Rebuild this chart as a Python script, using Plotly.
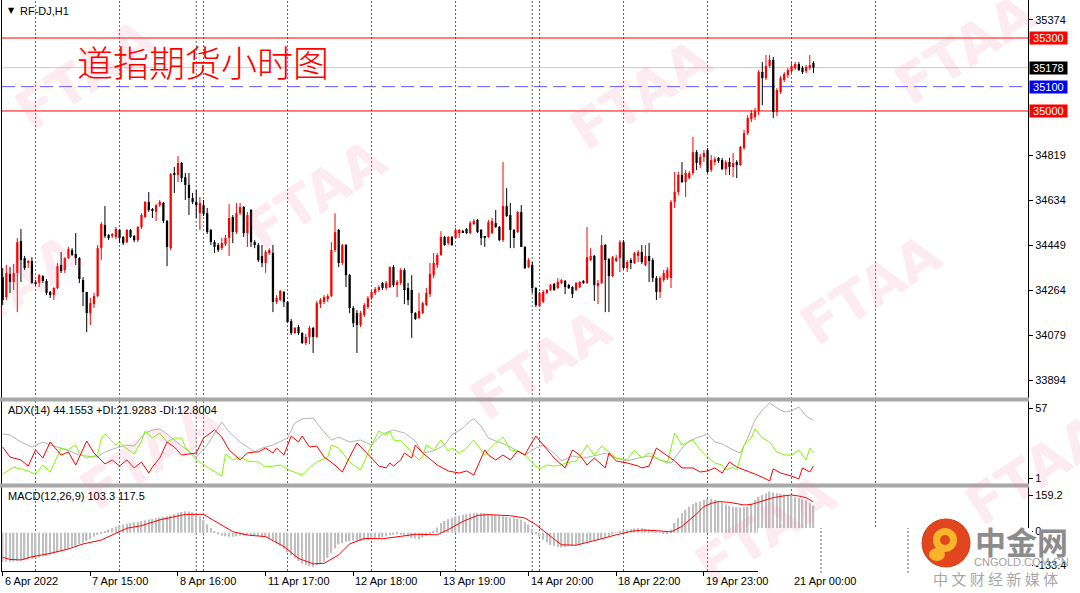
import plotly.graph_objects as go

# ---------------- data ----------------
bar_open = [34317,34235,34330,34297,34334,34465,34395,34375,34383,34297,34293,34321,34301,34256,34243,34272,34367,34346,34395,34428,
            34412,34395,34305,34256,34169,34206,34239,34436,34531,34490,34486,34482,34511,34482,34461,34511,34486,34469,34523,34564,
            34626,34597,34585,34613,34622,34548,34436,34745,34737,34786,34728,34696,34642,34626,34580,34613,34580,34511,34461,34449,
            34436,34453,34478,34564,34502,34580,34605,34498,34593,34461,34449,34404,34375,34416,34416,34215,34223,34256,34215,34136,
            34087,34112,34087,34046,34071,34108,34071,34206,34215,34227,34239,34428,34511,34375,34449,34325,34190,34169,34120,34161,
            34194,34231,34252,34264,34293,34272,34276,34358,34284,34293,34346,34272,34264,34169,34149,34169,34202,34247,34325,34367,
            34408,34482,34457,34482,34478,34498,34506,34515,34498,34535,34552,34511,34482,34482,34498,34539,34523,34469,34609,34572,
            34511,34502,34585,34441,34358,34367,34272,34198,34215,34252,34264,34289,34272,34293,34301,34284,34276,34264,34276,34301,
            34293,34387,34404,34280,34293,34449,34391,34321,34383,34395,34461,34354,34387,34375,34404,34420,34367,34404,34387,34313,
            34256,34305,34313,34313,34626,34667,34737,34708,34724,34745,34831,34778,34811,34839,34757,34790,34807,34798,34761,34790,
            34770,34790,34778,34848,34909,34967,34975,35000,35160,35135,35185,35210,34996,35078,35127,35148,35164,35177,35193,35177,
            35164,35177,35197]
bar_high = [34354,34367,34358,34371,34478,34515,34404,34387,34399,34305,34330,34325,34309,34260,34276,34375,34420,34399,34441,34436,
            34498,34399,34317,34256,34231,34252,34449,34543,34609,34494,34498,34523,34515,34486,34515,34515,34490,34527,34580,34630,
            34667,34601,34617,34634,34626,34552,34745,34770,34815,34790,34745,34745,34663,34675,34646,34634,34601,34515,34469,34457,
            34478,34490,34617,34572,34622,34622,34609,34585,34597,34469,34457,34449,34428,34436,34449,34243,34264,34260,34219,34145,
            34112,34120,34091,34083,34116,34112,34219,34231,34243,34247,34461,34580,34515,34453,34453,34330,34198,34182,34178,34210,
            34239,34264,34276,34284,34297,34301,34362,34367,34305,34354,34354,34293,34325,34173,34252,34215,34272,34375,34416,34416,
            34506,34486,34486,34486,34519,34515,34511,34519,34548,34556,34556,34515,34486,34552,34560,34593,34527,34790,34683,34622,
            34515,34589,34613,34445,34395,34379,34276,34256,34264,34268,34289,34293,34313,34309,34305,34289,34280,34297,34301,34305,
            34523,34436,34408,34305,34490,34453,34395,34404,34408,34469,34469,34387,34395,34420,34428,34449,34449,34457,34395,34321,
            34321,34346,34358,34634,34749,34749,34790,34757,34753,34893,34839,34823,34839,34848,34819,34811,34811,34807,34798,34807,
            34827,34798,34856,34922,34983,35004,35012,35168,35201,35230,35230,35222,35094,35144,35160,35177,35197,35201,35201,35185,
            35189,35230,35205]
bar_low = [34202,34223,34252,34264,34173,34297,34346,34354,34289,34280,34276,34293,34243,34231,34223,34268,34334,34334,34391,34404,
           34367,34293,34198,34091,34120,34190,34235,34387,34478,34469,34478,34473,34457,34449,34457,34478,34461,34461,34515,34560,
           34585,34560,34548,34605,34539,34362,34428,34663,34708,34708,34634,34572,34617,34560,34511,34568,34494,34449,34416,34420,
           34428,34445,34404,34457,34494,34572,34482,34441,34441,34436,34379,34358,34334,34408,34173,34206,34219,34194,34128,34079,
           34083,34079,34042,34038,34042,34005,34067,34190,34206,34215,34235,34420,34358,34367,34276,34169,34112,34005,34112,34153,
           34186,34223,34243,34256,34264,34264,34272,34276,34235,34284,34206,34202,34067,34141,34145,34165,34198,34235,34313,34354,
           34404,34445,34449,34445,34473,34478,34498,34494,34494,34531,34498,34449,34441,34478,34494,34519,34465,34461,34564,34436,
           34436,34498,34441,34350,34354,34252,34194,34194,34210,34247,34260,34260,34268,34289,34247,34268,34231,34260,34272,34289,
           34289,34383,34219,34206,34289,34173,34173,34317,34379,34338,34350,34338,34350,34371,34379,34371,34362,34297,34297,34223,
           34231,34297,34305,34272,34601,34654,34704,34646,34720,34737,34757,34765,34790,34745,34749,34778,34786,34757,34737,34737,
           34728,34724,34774,34839,34901,34955,34963,34983,35024,35127,35177,34971,34979,35070,35119,35135,35156,35168,35164,35152,
           35156,35168,35156]
bar_close = [34223,34334,34297,34334,34461,34387,34354,34383,34293,34289,34325,34301,34252,34243,34272,34362,34342,34395,34432,34408,
             34395,34309,34256,34169,34210,34239,34436,34535,34486,34478,34494,34515,34478,34457,34511,34482,34469,34523,34572,34626,
             34593,34589,34613,34626,34548,34441,34741,34737,34786,34724,34696,34642,34626,34613,34622,34576,34502,34461,34441,34428,
             34457,34478,34560,34502,34580,34605,34498,34572,34461,34449,34387,34375,34420,34428,34215,34231,34260,34215,34132,34087,
             34108,34087,34046,34071,34108,34071,34210,34223,34235,34239,34428,34502,34375,34449,34325,34190,34128,34120,34169,34202,
             34231,34256,34268,34276,34272,34293,34358,34284,34297,34346,34264,34223,34169,34145,34178,34210,34252,34330,34375,34408,
             34482,34449,34482,34449,34511,34511,34502,34498,34539,34548,34502,34478,34478,34543,34548,34523,34469,34609,34568,34511,
             34478,34585,34441,34354,34387,34272,34202,34252,34256,34264,34284,34264,34297,34305,34276,34272,34247,34293,34297,34293,
             34399,34404,34284,34293,34449,34387,34321,34399,34395,34461,34354,34379,34379,34416,34420,34379,34404,34383,34313,34256,
             34313,34334,34346,34626,34667,34737,34708,34745,34745,34831,34786,34811,34827,34749,34798,34802,34794,34761,34790,34770,
             34786,34778,34852,34909,34971,34992,35000,35160,35135,35185,35210,34996,35086,35135,35152,35168,35185,35193,35168,35160,
             35181,35189,35178]

time_tick_idx = [0, 24, 48, 72, 96, 120, 144, 168, 192, 216]
time_tick_text = ["6 Apr 2022", "7 Apr 15:00", "8 Apr 16:00", "11 Apr 17:00", "12 Apr 18:00",
                  "13 Apr 19:00", "14 Apr 20:00", "18 Apr 22:00", "19 Apr 23:00", "21 Apr 00:00"]
day_sep_idx = [9, 32, 53, 55, 78, 101, 124, 145, 147, 170, 193, 216, 239]

price_ticks = [35374, 34819, 34634, 34449, 34264, 34079, 33894]
red_levels = [35300, 35000]
blue_level = 35100
bid_price = 35178

adx_x = [0,2,5,8,11,13,16,18,21,23,26,28,31,34,36,39,41,43,45,48,50,53,56,59,60,62,65,69,71,74,78,80,82,85,88,90,92,95,98,101,
         104,107,110,113,115,118,121,123,126,128,129,131,133,135,138,141,143,146,148,151,153,156,159,163,165,168,171,174,177,180,
         183,186,188,190,193,195,197,200,202,204,206,208,210,212,214,216,218,220,222]
adx_v = [34.8,34.1,29.3,25.8,29.3,27.2,25.1,23.1,20.3,19.6,18.9,22.4,25.1,27.2,26.5,35.5,37.6,38.3,34.8,28.6,
         24.5,18.9,27.2,39.0,43.1,36.2,29.3,22.4,25.1,27.2,32.0,42.4,45.2,45.8,36.2,30.7,32.7,29.3,30.7,27.2,
         34.8,37.6,35.5,30.0,21.7,23.1,27.2,34.1,39.0,43.8,45.2,40.3,32.0,30.0,27.2,23.1,20.3,25.1,27.2,21.7,
         16.2,19.6,18.2,20.3,21.7,18.2,16.2,18.2,19.6,16.9,14.8,25.1,30.0,32.0,34.8,29.3,27.9,23.8,21.7,32.0,
         44.5,51.4,56.2,52.8,50.0,50.7,53.4,47.2,44.2]
pdi_x = [0,3,6,9,11,13,16,18,19,20,21,23,26,27,28,31,32,33,36,38,39,41,43,45,47,49,50,53,56,60,61,63,65,67,70,72,76,79,82,84,
         86,89,90,92,95,98,101,103,105,106,107,109,111,112,114,115,116,118,120,122,123,125,127,129,132,133,135,137,139,141,
         143,145,147,149,151,153,154,157,159,160,162,164,166,168,171,173,175,177,180,182,184,186,189,191,193,195,197,198,200,201,
         203,205,206,208,210,212,214,216,218,220,221,222]
pdi_v = [7.2,12,10,7.2,13.4,8.6,25.1,23.8,25.8,27.2,21.7,18.2,20.3,32,34.8,27.2,29.3,26.5,21,30,36.9,32,35.5,29.3,32,32,25.8,16.9,12,5.8,
         21,16.9,18.9,16.2,15.5,12,13.4,9.3,6.5,11.4,15.5,18.9,27.2,25.1,15.5,10,27.2,36.9,34.1,36.9,30.7,30,25.1,21.7,16.9,19.6,
         27.2,23.8,30.7,23.1,25.1,21.7,25.1,30.7,20.3,23.8,28.6,32.7,23.8,23.1,20.3,14.8,10.7,13.4,12.7,13.4,14.8,16.2,23.1,27.2,
         20.3,26.5,22.4,18.2,16.9,23.8,18.2,21.7,16.9,14.8,35.5,27.2,30.7,23.8,18.9,14.8,13.4,10,12,10,27.2,32,38.3,32,29.3,22.4,
         20.3,20.3,23.8,16.9,25.1,21.9]
mdi_x = [0,2,5,7,9,11,13,16,18,20,23,25,28,30,32,34,36,38,40,41,43,45,47,49,51,53,55,58,60,62,65,67,69,70,72,74,75,77,79,81,
         82,84,86,88,91,93,95,97,101,103,105,106,107,109,110,112,113,115,119,122,125,127,129,132,133,135,137,139,141,143,
         144,146,148,151,154,156,158,160,162,164,165,166,168,171,174,175,177,179,182,184,186,189,191,193,195,197,199,201,203,206,
         209,210,211,213,216,218,219,221,222]
mdi_v = [25.8,18.9,16.9,12.7,23.8,18.2,29.3,20.3,22.4,13.4,30,21.7,14.1,16.9,12.7,16.9,11.4,15.5,7.9,12,18.2,29.3,25.8,20.3,21,21.7,
         32,37.6,32.7,23.8,16.9,21.7,22.4,22.4,25.1,21.7,25.1,20.3,33.4,29.3,33.4,25.8,26.5,18.9,13.4,8.6,18.9,28.6,18.2,12.7,11.4,
         14.8,12.7,16.9,21.7,18.2,27.2,21.7,13.4,9.3,7.9,9.3,6.5,23.8,20.3,16.9,20.3,16.9,23.1,20.3,25.1,33.4,27.2,18.2,11.4,23.8,
         20.3,13.4,18.2,13.4,11.4,21.7,16.2,14.8,12.7,11.4,12.7,25.1,19.6,16.2,11.4,11.4,8.6,9.3,11.4,7.9,15.5,12,10,7.2,3.8,2.4,
         10.7,7.9,5.8,3.8,11.4,8.6,12.8]

macd_main = [-111,-111,-111,-110,-108,-106,-105,-102,-100,-97,-95,-91,-88,-84,-80,-76,-72,-67,-62,-56,
             -50,-44,-38,-31,-25,-15,-8,-2,6,12,18,24,28,31,34,37,40,42,45,48,
             50,53,55,58,60,63,66,71,76,79,82,81,78,72,62,48,32,18,4,-6,
             -12,-14,-15,-15,-14,-12,-10,-9,-9,-10,-12,-14,-16,-21,-28,-38,-50,-62,-75,-87,
             -98,-108,-118,-124,-128,-130,-125,-120,-112,-96,-78,-60,-45,-40,-35,-32,-30,-31,-32,-29,
             -27,-24,-22,-20,-18,-14,-10,-8,-6,-8,-10,-15,-20,-23,-25,-19,-12,-3,5,20,
             37,45,52,57,62,66,69,71,73,74,75,75,75,73,70,68,65,63,60,58,
             55,53,50,41,31,15,-5,-15,-27,-37,-46,-51,-55,-56,-55,-52,-50,-48,-46,-42,
             -38,-34,-30,-27,-24,-19,-14,-7,-1,4,8,11,14,16,18,17,15,12,8,3,
             -1,-5,-6,12,37,56,75,88,100,110,116,119,126,128,130,126,119,114,108,103,
             99,97,96,97,100,112,125,137,144,150,157,154,151,149,147,144,140,137,132,128,
             124,114,103.3]
sig_x = [0,2,5,8,13,18,22,27,31,34,38,43,48,50,55,59,63,67,72,77,81,85,88,92,95,99,104,109,113,119,
         122,126,130,133,139,143,146,150,153,157,161,164,168,172,175,179,183,186,190,192,194,196,199,203,205,208,211,214,216,218,
         220,222]
sig_v = [-94,-102,-104,-92,-79,-62,-43,-28,-2,17,27,49,64,70,70,36,4,-9,-15,-53,-98,-119,-117,-85,-43,-22,-23,-14,-6,-8,
         12,43,66,69,65,56,31,-14,-46,-48,-35,-23,-8,5,10,8,3,24,72,100,112,119,116,106,108,121,134,141,144,140,
         134,117.5]

# ---------------- geometry helpers (layout only) ----------------
W, H = 1080, 593
PL, PR, PT, PB = 2, 52, 0, 22
PW, PH = W - PL - PR, H - PT - PB


def px_x(px):
    return (px - PL) / PW


def px_y(py):
    return 1 - (py - PT) / PH


X_RANGE = [-0.19, 280.75]

fig = go.Figure()

# ---------------- candles ----------------
bull = {"x": [], "base": [], "h": [], "wx": [], "wy": []}
bear = {"x": [], "base": [], "h": [], "wx": [], "wy": []}
for i, (o, h, l, c) in enumerate(zip(bar_open, bar_high, bar_low, bar_close)):
    d = bull if c >= o else bear
    d["x"].append(i)
    d["base"].append(min(o, c))
    d["h"].append(max(abs(c - o), 4))
    d["wx"] += [i, i, None]
    d["wy"] += [l, h, None]

for d, col in ((bull, "#ff0000"), (bear, "#000000")):
    fig.add_trace(go.Scatter(x=d["wx"], y=d["wy"], mode="lines", line=dict(color=col, width=1),
                             hoverinfo="skip", showlegend=False, xaxis="x", yaxis="y"))
    fig.add_trace(go.Bar(x=d["x"], y=d["h"], base=d["base"], width=0.62, marker=dict(color=col, line=dict(width=0)),
                         showlegend=False, xaxis="x", yaxis="y"))

# ---------------- ADX pane ----------------
fig.add_trace(go.Scatter(x=adx_x, y=adx_v, mode="lines", line=dict(color="#b4b4b4", width=1),
                         showlegend=False, xaxis="x2", yaxis="y2"))
fig.add_trace(go.Scatter(x=pdi_x, y=pdi_v, mode="lines", line=dict(color="#7cfc00", width=1),
                         showlegend=False, xaxis="x2", yaxis="y2"))
fig.add_trace(go.Scatter(x=mdi_x, y=mdi_v, mode="lines", line=dict(color="#ff0000", width=1),
                         showlegend=False, xaxis="x2", yaxis="y2"))

# ---------------- MACD pane ----------------
fig.add_trace(go.Bar(x=list(range(len(macd_main))), y=macd_main, width=0.42,
                     marker=dict(color="#c0c0c0", line=dict(width=0)),
                     showlegend=False, xaxis="x3", yaxis="y3"))
fig.add_trace(go.Scatter(x=sig_x, y=sig_v, mode="lines", line=dict(color="#ff0000", width=1),
                         showlegend=False, xaxis="x3", yaxis="y3"))

# ---------------- shapes ----------------
shapes = []
for s in day_sep_idx:
    shapes.append(dict(type="line", xref="x", yref="paper", x0=s, x1=s, y0=0, y1=1,
                       line=dict(color="#606060", width=1, dash="2px,2px"), layer="below"))
for lv in red_levels:
    shapes.append(dict(type="line", xref="paper", yref="y", x0=0, x1=1, y0=lv, y1=lv,
                       line=dict(color="#ff0000", width=1), layer="below"))
shapes.append(dict(type="line", xref="paper", yref="y", x0=0, x1=1, y0=bid_price, y1=bid_price,
                   line=dict(color="#c8c8c8", width=1), layer="below"))
shapes.append(dict(type="line", xref="paper", yref="y", x0=0, x1=1, y0=blue_level, y1=blue_level,
                   line=dict(color="#5a5aff", width=1, dash="13px,6px"), layer="below"))
# pane separator bands
for y_top, y_bot in ((397.5, 401.5), (483.5, 487.5)):
    shapes.append(dict(type="rect", xref="paper", yref="paper", x0=px_x(0), x1=px_x(1029),
                       y0=px_y(y_bot), y1=px_y(y_top), fillcolor="#a8a8a8", line=dict(width=0), layer="above"))
# logo patch
shapes.append(dict(type="rect", xref="paper", yref="paper", x0=px_x(758), x1=px_x(1032),
                   y0=px_y(594), y1=px_y(528), fillcolor="#ffffff", line=dict(width=0), layer="above"))
for sx in (821, 908):
    shapes.append(dict(type="line", xref="paper", yref="paper", x0=px_x(sx), x1=px_x(sx),
                       y0=px_y(573), y1=px_y(528), line=dict(color="#606060", width=1, dash="2px,2px"), layer="above"))
# logo circle
shapes.append(dict(type="circle", xref="paper", yref="paper", x0=px_x(922), x1=px_x(970),
                   y0=px_y(567), y1=px_y(519), fillcolor="#e2461f", line=dict(color="#d43a14", width=1), layer="above"))
shapes.append(dict(type="circle", xref="paper", yref="paper", x0=px_x(933), x1=px_x(957),
                   y0=px_y(552), y1=px_y(528), fillcolor="#f7b52c", line=dict(width=0), layer="above"))
shapes.append(dict(type="circle", xref="paper", yref="paper", x0=px_x(940), x1=px_x(950),
                   y0=px_y(545), y1=px_y(535), fillcolor="#e2461f", line=dict(width=0), layer="above"))
shapes.append(dict(type="circle", xref="paper", yref="paper", x0=px_x(929), x1=px_x(945),
                   y0=px_y(561), y1=px_y(548), fillcolor="#f7b52c", line=dict(width=0), layer="above"))

# ---------------- annotations ----------------
ann = []
wm_font = dict(family="DejaVu Sans", size=54, color="rgba(232,120,160,0.15)", weight="bold")
for cx, cy in ((85, 75), (640, 95), (315, 195), (540, 365), (870, 290), (965, 50),
               (1035, 470), (765, 530), (150, 455), (10, 290)):
    ann.append(dict(text="FTAA", xref="paper", yref="paper", x=px_x(cx), y=px_y(cy), showarrow=False,
                    textangle=-33, font=wm_font, xanchor="center", yanchor="middle"))

ann.append(dict(text="道指期货小时图", xref="paper", yref="paper", x=px_x(75), y=px_y(61), xanchor="left",
                yanchor="middle", showarrow=False,
                font=dict(family="Noto Sans CJK SC", size=36, color="#ff0000", weight=300)))
ann.append(dict(text="▼", xref="paper", yref="paper", x=px_x(6), y=px_y(11), xanchor="left", yanchor="middle",
                showarrow=False, font=dict(family="DejaVu Sans", size=8, color="#000000")))
ann.append(dict(text="RF-DJ,H1", xref="paper", yref="paper", x=px_x(18), y=px_y(11), xanchor="left", yanchor="middle",
                showarrow=False, font=dict(family="Liberation Sans", size=11, color="#000000")))
ann.append(dict(text="ADX(14) 44.1553 +DI:21.9283 -DI:12.8004", xref="paper", yref="paper", x=px_x(6), y=px_y(410),
                xanchor="left", yanchor="middle", showarrow=False,
                font=dict(family="Liberation Sans", size=11, color="#000000")))
ann.append(dict(text="MACD(12,26,9) 103.3 117.5", xref="paper", yref="paper", x=px_x(6), y=px_y(496),
                xanchor="left", yanchor="middle", showarrow=False,
                font=dict(family="Liberation Sans", size=11, color="#000000")))

for ti, tt in zip(time_tick_idx, time_tick_text):
    ann.append(dict(text=tt, xref="x", yref="paper", x=ti, y=px_y(581), xanchor="left", yanchor="middle",
                    showarrow=False, font=dict(family="Liberation Sans", size=11, color="#000000")))

for lv, bg in ((35300, "#ff0000"), (bid_price, "#000000"), (blue_level, "#0000ff"), (35000, "#ff0000")):
    ann.append(dict(text="\u00a0" + str(lv) + "\u00a0", xref="paper", yref="y", x=1, y=lv, xanchor="left",
                    yanchor="middle", xshift=1, showarrow=False, bgcolor=bg, borderpad=0,
                    font=dict(family="Liberation Sans", size=11, color="#ffffff")))

ann.append(dict(text="<b>中金网</b>", xref="paper", yref="paper", x=px_x(1021), y=px_y(540), xanchor="center",
                yanchor="middle", showarrow=False, font=dict(family="Noto Sans CJK SC", size=31, color="#8c8c8c")))
ann.append(dict(text="CNGOLD.COM.CN", xref="paper", yref="paper", x=px_x(1021), y=px_y(562), xanchor="center",
                yanchor="middle", showarrow=False, font=dict(family="Liberation Sans", size=11, color="#a0a0a0")))
ann.append(dict(text="中 文 财 经 新 媒 体", xref="paper", yref="paper", x=px_x(995), y=px_y(578), xanchor="center",
                yanchor="middle", showarrow=False, font=dict(family="Noto Sans CJK SC", size=15, color="#a8a8a8")))

axis_common = dict(range=X_RANGE, showgrid=False, zeroline=False, showticklabels=False, fixedrange=True)
main_dom = [px_y(398), 1]
adx_dom = [px_y(484), px_y(401)]
macd_dom = [0, px_y(487)]

fig.update_layout(
    width=W, height=H, margin=dict(l=PL, r=PR, t=PT, b=PB),
    paper_bgcolor="#ffffff", plot_bgcolor="rgba(0,0,0,0)",
    font=dict(family="Liberation Sans", size=11, color="#000000"),
    barmode="overlay", showlegend=False,
    xaxis=dict(**axis_common, anchor="y", showline=True, linecolor="#000000", ticks=""),
    xaxis2=dict(**axis_common, anchor="y2", matches="x", showline=True, mirror=True, linecolor="#000000", ticks=""),
    xaxis3=dict(**axis_common, anchor="y3", matches="x", showline=True, mirror=True, linecolor="#000000",
                ticks="outside", ticklen=4, tickcolor="#000000", tickvals=time_tick_idx),
    yaxis=dict(domain=main_dom, range=[33820.0, 35456.2], side="right", showgrid=False, zeroline=False,
               tickvals=price_ticks, ticktext=[str(v) for v in price_ticks], ticks="outside", ticklen=4,
               tickcolor="#000000", showline=True, mirror=True, linecolor="#000000", fixedrange=True,
               tickfont=dict(family="Liberation Sans", size=11, color="#000000")),
    yaxis2=dict(domain=adx_dom, range=[0.31, 57.58], side="right", showgrid=False, zeroline=False,
                tickvals=[52.75, 4.45], ticktext=["57", "1"], ticks="outside", ticklen=4, tickcolor="#000000",
                showline=True, mirror=True, linecolor="#000000", fixedrange=True,
                tickfont=dict(family="Liberation Sans", size=11, color="#000000")),
    yaxis3=dict(domain=macd_dom, range=[-146.3, 174.6], side="right", showgrid=False, zeroline=False,
                tickvals=[144.0, 6.5, -123.4], ticktext=["159.2", "0", "-133.4"], ticks="outside", ticklen=4,
                tickcolor="#000000", showline=True, mirror=True, linecolor="#000000", fixedrange=True,
                tickfont=dict(family="Liberation Sans", size=11, color="#000000")),
    shapes=shapes, annotations=ann,
)

fig.write_html("out.html", config={"displayModeBar": False},
               post_script="document.body.style.margin='0px';document.body.style.padding='0px';")
